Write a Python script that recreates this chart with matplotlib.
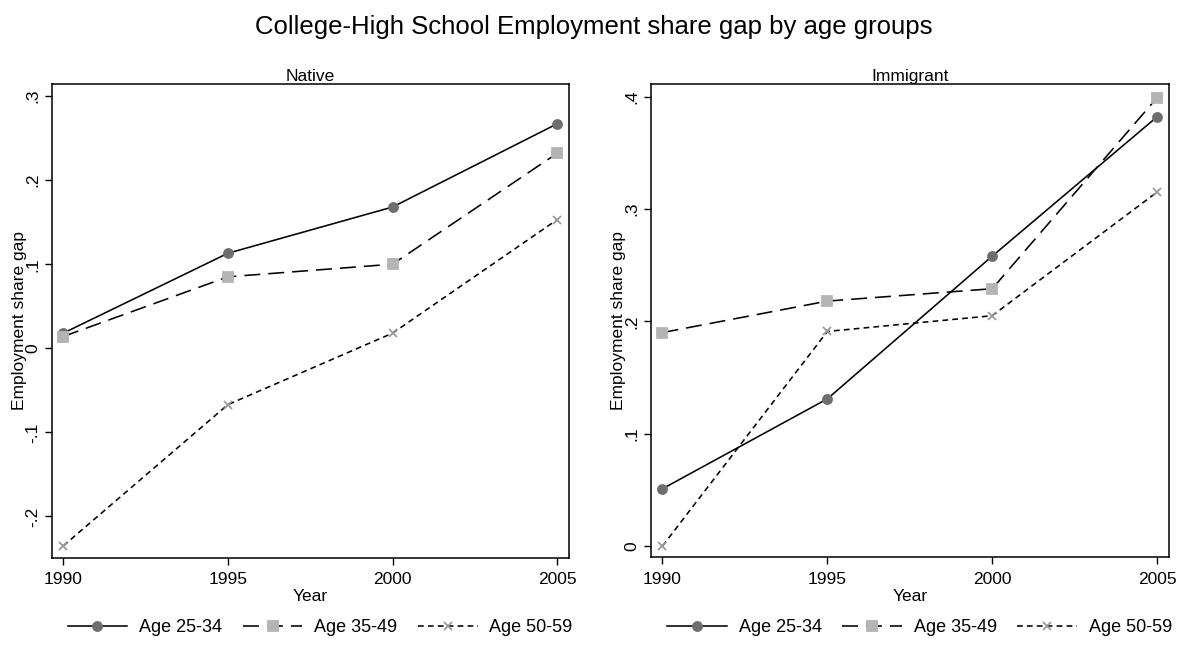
import matplotlib
matplotlib.use('Agg')
import matplotlib.pyplot as plt
from matplotlib.ticker import FuncFormatter

plt.rcParams['font.family'] = ['Liberation Sans', 'DejaVu Sans']

# data
years = [1990, 1995, 2000, 2005]
native_25_34 = [0.018, 0.113, 0.168, 0.267]
native_35_49 = [0.014, 0.085, 0.100, 0.232]
native_50_59 = [-0.235, -0.067, 0.018, 0.153]
imm_25_34 = [0.051, 0.131, 0.258, 0.382]
imm_35_49 = [0.190, 0.218, 0.229, 0.399]
imm_50_59 = [0.000, 0.191, 0.205, 0.315]
labels = ['Age 25-34', 'Age 35-49', 'Age 50-59']
native_yticks = [-0.2, -0.1, 0, 0.1, 0.2, 0.3]
imm_yticks = [0, 0.1, 0.2, 0.3, 0.4]

# line style per age group: (linestyle / dashes, marker, marker colour, marker size)
styles = [
    dict(linestyle='-', marker='o', color='#6e6e6e', ms=6.5),
    dict(dashes=(10, 5), marker='s', color='#b4b4b4', ms=6.5),
    dict(dashes=(3.6, 2.6), marker='x', color='#9a9a9a', ms=6),
]


def stata_fmt(v, pos):
    s = f'{round(v, 2):g}'
    return s.replace('0.', '.')


fig = plt.figure(figsize=(11.87, 6.48), dpi=100)
ax1 = fig.add_axes([0.04356, 0.1394, 0.4356, 0.7306])
ax2 = fig.add_axes([0.5484, 0.1400, 0.4361, 0.7300])

panels = [
    (ax1, 'Native', [native_25_34, native_35_49, native_50_59], native_yticks, (-0.249, 0.314)),
    (ax2, 'Immigrant', [imm_25_34, imm_35_49, imm_50_59], imm_yticks, (-0.010, 0.411)),
]

for ax, title, series, yticks, ylim in panels:
    for vals, lab, st in zip(series, labels, styles):
        kw = dict(color='black', lw=1.15, marker=st['marker'], ms=st['ms'],
                  mfc=st['color'], mec=st['color'], mew=1.3, label=lab)
        if 'dashes' in st:
            kw['dashes'] = st['dashes']
        else:
            kw['linestyle'] = st['linestyle']
        ax.plot(years, vals, **kw)

    ax.set_xlim(1989.65, 2005.35)
    ax.set_ylim(*ylim)
    ax.set_xticks(years)
    ax.set_yticks(yticks)
    ax.yaxis.set_major_formatter(FuncFormatter(stata_fmt))
    ax.tick_params(direction='out', length=5, width=1, labelsize=12.5)
    ax.tick_params(axis='x', pad=5.5)
    ax.tick_params(axis='y', pad=3.5)
    for lbl in ax.get_yticklabels():
        lbl.set_rotation(90)
        lbl.set_va('center')
    for sp in ax.spines.values():
        sp.set_linewidth(1.1)

    ax.set_title(title, fontsize=12.5, pad=1.5)
    ax.set_xlabel('Year', fontsize=12.5)
    ax.xaxis.set_label_coords(0.5, -0.067)
    ax.set_ylabel('Employment share gap', fontsize=12.5)
    ax.yaxis.set_label_coords(-0.048, 0.5)

    ax.legend(loc='center', bbox_to_anchor=(0.519, -0.1485), ncol=3, frameon=False,
              fontsize=13, handlelength=3.3, handletextpad=0.65, columnspacing=1.15)

fig.suptitle('College-High School Employment share gap by age groups',
             fontsize=18.5, y=0.958, va='center')

plt.savefig('out.png', dpi=100)
